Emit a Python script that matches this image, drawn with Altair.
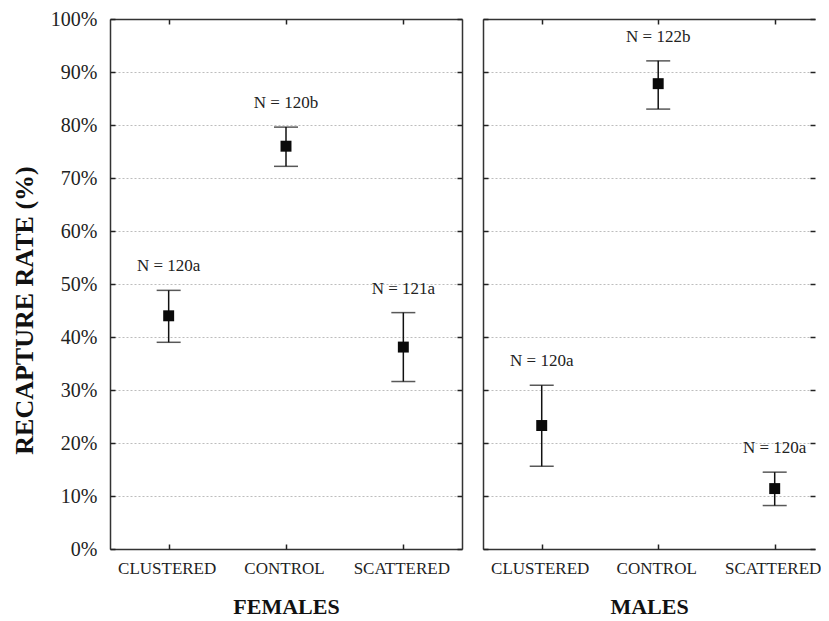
import altair as alt
import pandas as pd

groups = ["CLUSTERED", "CONTROL", "SCATTERED"]

female_mean = [44.0, 76.0, 38.1]
female_low = [39.0, 72.2, 31.6]
female_high = [48.8, 79.6, 44.6]
female_labels = ["N = 120a", "N = 120b", "N = 121a"]

male_mean = [23.3, 87.8, 11.4]
male_low = [15.6, 83.0, 8.2]
male_high = [30.9, 92.1, 14.5]
male_labels = ["N = 120a", "N = 122b", "N = 120a"]

y_ticks = [0, 10, 20, 30, 40, 50, 60, 70, 80, 90, 100]

FONT = "Liberation Serif"
H = 530
FRAME = "#333"


def make_df(mean, low, high, labels):
    return pd.DataFrame({"group": groups, "mean": mean, "low": low,
                         "high": high, "label": labels})


def panel(df, title, W, left, xs):
    ys = alt.Scale(domain=[0, 100], nice=False, zero=True)
    base = alt.Chart(df)

    x_main = alt.X("group:N", scale=xs, sort=groups, axis=alt.Axis(
        orient="bottom", title=title, tickSize=0, grid=False,
        domain=True, domainColor=FRAME, domainWidth=1.5,
        labelFont=FONT, labelFontSize=17, labelColor="#222", labelPadding=11,
        labelAngle=0, labelOffset=-2,
        titleFont=FONT, titleFontSize=22, titleFontWeight="bold", titleColor="#111",
        titleY=57, titleBaseline="middle"))
    if left:
        y_axis = alt.Axis(orient="left", title="RECAPTURE RATE (%)", values=y_ticks,
                          labelExpr="datum.value + '%'", tickSize=0,
                          domain=True, domainColor=FRAME, domainWidth=1.5,
                          grid=True, gridColor="#bdbdbd", gridDash=[2, 2], gridWidth=1,
                          labelFont=FONT, labelFontSize=20, labelColor="#222",
                          labelPadding=13, titleFont=FONT, titleFontSize=26,
                          titleFontWeight="bold", titleColor="#111", titlePadding=13,
                          titleY=291)
    else:
        y_axis = alt.Axis(orient="left", title=None, values=y_ticks, labels=False,
                          ticks=False, domain=True, domainColor=FRAME, domainWidth=1.5,
                          grid=True, gridColor="#bdbdbd",
                          gridDash=[2, 2], gridWidth=1, minExtent=0)
    rules = base.mark_rule(color="#111", strokeWidth=1.5).encode(
        x=x_main,
        y=alt.Y("low:Q", scale=ys, axis=y_axis),
        y2="high:Q",
    )

    tick_ax = dict(labels=False, title=None, grid=False, tickSize=5,
                   tickColor="#222", tickWidth=1.5, minExtent=0, domain=False)
    low_caps = base.mark_tick(orient="horizontal", size=24, thickness=1.5,
                              color="#111").encode(
        x=alt.X("group:N", scale=xs, sort=groups,
                axis=alt.Axis(orient="top", offset=-H, **tick_ax)),
        y=alt.Y("low:Q", scale=ys,
                axis=alt.Axis(orient="right", offset=-W, values=y_ticks, **tick_ax)),
    )
    top_ax = dict(tick_ax)
    top_ax.update(domain=True, domainColor=FRAME, domainWidth=1.5)
    right_ax = dict(tick_ax)
    if left:
        right_ax.update(domain=True, domainColor=FRAME, domainWidth=1.5)
    high_caps = base.mark_tick(orient="horizontal", size=24, thickness=1.5,
                               color="#111").encode(
        x=alt.X("group:N", scale=xs, sort=groups,
                axis=alt.Axis(orient="bottom", offset=-H, **top_ax)),
        y=alt.Y("high:Q", scale=ys,
                axis=alt.Axis(orient="left", offset=-W, values=y_ticks, **right_ax)),
    )
    points = base.mark_square(size=120, color="#0a0a0a", opacity=1).encode(
        x=alt.X("group:N", scale=xs, sort=groups, axis=None),
        y=alt.Y("mean:Q", scale=ys, axis=None),
    )
    texts = base.mark_text(dy=-24, font=FONT, fontSize=17, color="#222",
                           baseline="middle").encode(
        x=alt.X("group:N", scale=xs, sort=groups, axis=None),
        y=alt.Y("high:Q", scale=ys, axis=None),
        text="label:N",
    )
    return alt.layer(rules, low_caps, high_caps, points, texts).resolve_axis(
        x="independent", y="independent").properties(width=W, height=H)


left_scale = alt.Scale(type="point", domain=groups, padding=0.5)
right_scale = alt.Scale(type="point", domain=groups, padding=0.425, align=0.593)

left_panel = panel(make_df(female_mean, female_low, female_high, female_labels),
                   "FEMALES", 352, True, left_scale)
right_panel = panel(make_df(male_mean, male_low, male_high, male_labels),
                    "MALES", 332, False, right_scale)

chart = alt.hconcat(left_panel, right_panel, spacing=19).properties(
    padding={"left": 3, "top": 1, "right": 0, "bottom": 0},
    background="white",
).resolve_scale(x="independent").configure_view(stroke=None)

chart.save("out.html", embed_options={"renderer": "svg", "actions": False})
